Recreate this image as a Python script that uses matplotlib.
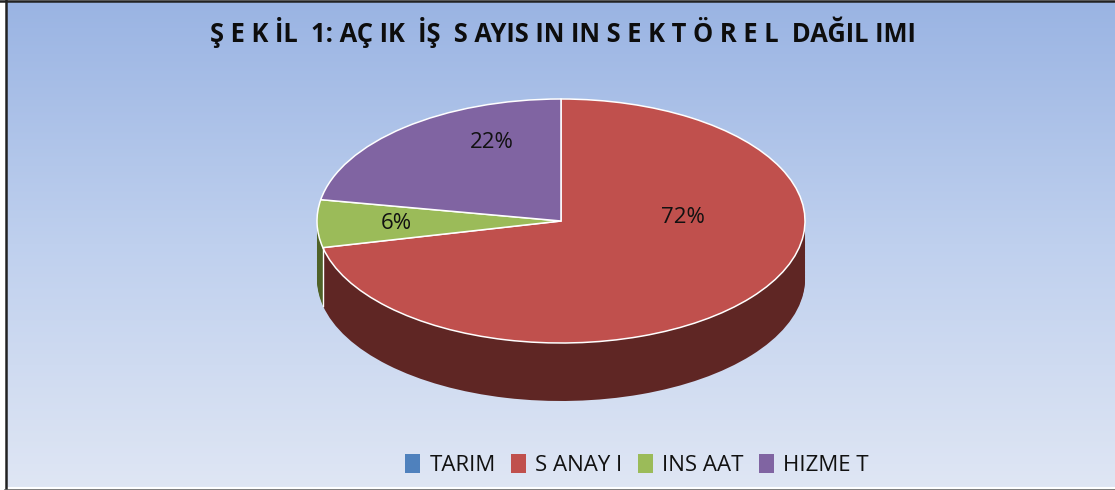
import matplotlib
matplotlib.use('Agg')
import matplotlib.pyplot as plt
import numpy as np
from matplotlib.patches import Patch

plt.rcParams['font.family'] = ['Open Sans', 'DejaVu Sans']

# data
sectors = ['TARIM', 'S ANAY I', 'INS AAT', 'HIZME T']
shares = [0, 71.5, 6.3, 22.2]
top_colors = ['#4f81bd', '#c0504d', '#9bbb59', '#8064a2']
side_colors = ['#2c4d75', '#5f2624', '#4f6228', '#4d3b62']
title = 'Ş E K İL  1: AÇ IK  İŞ  S AYIS IN IN S E K T Ö R E L  DAĞIL IMI'

W, H = 1115, 490
fig = plt.figure(figsize=(W / 100, H / 100), dpi=100, facecolor='white')

# background in pixel coordinates
bg = fig.add_axes([0, 0, 1, 1])
bg.axis('off')
grad = np.linspace(0, 1, 256).reshape(-1, 1)
cmap = matplotlib.colors.LinearSegmentedColormap.from_list(
    'bgfill', ['#9ab4e3', '#bfd0ee', '#dfe6f4'])
bg.imshow(grad, cmap=cmap, extent=[6, W, 487, 2], aspect='auto')
bg.set_xlim(0, W)
bg.set_ylim(H, 0)
bg.plot([5.5, 5.5], [0, 489], color='#222222', lw=1.8)
bg.plot([0, W], [1, 1], color='#222222', lw=1.8)
bg.plot([5, W], [489.5, 489.5], color='#666666', lw=1.2)

# pie axes: x 317-805, y 99-343, unit circle stretched into an ellipse
x0, x1, y0, y1 = 317, 805, 99, 343
ax = fig.add_axes([x0 / W, 1 - y1 / H, (x1 - x0) / W, (y1 - y0) / H], zorder=1)
depth = 58 / ((y1 - y0) / 2)

for off in np.linspace(depth, 0.01, 40):
    ax.pie(shares, colors=side_colors, startangle=90, counterclock=False,
           center=(0, -off), wedgeprops={'linewidth': 0, 'clip_on': False})
wedges, _ = ax.pie(shares, colors=top_colors, startangle=90, counterclock=False,
                   center=(0, 0), wedgeprops={'linewidth': 1.1, 'edgecolor': 'white', 'clip_on': False})

# white seam on the side where the red and green walls meet
ang = np.deg2rad(90 - 3.6 * (shares[0] + shares[1]))
ax.plot([np.cos(ang)] * 2, [np.sin(ang), np.sin(ang) - depth], color='white', lw=1, clip_on=False)

ax.set_aspect('auto')
ax.set_xlim(-1, 1)
ax.set_ylim(-1, 1)
ax.axis('off')

# text sits on its own overlay so the pie does not cover it
over = fig.add_axes([0, 0, 1, 1], zorder=5)
over.set_xlim(0, W)
over.set_ylim(H, 0)
over.axis('off')

label_pos = [None, (683, 217), (396, 223), (492, 142)]
for v, p in zip(shares, label_pos):
    if p is not None:
        over.text(p[0], p[1], f'{round(v)}%', ha='center', va='center', fontsize=16, color='#111111')

over.text(563, 32, title, ha='center', va='center', fontsize=18.4, fontweight='bold', color='#0d0d0d')

handles = [Patch(facecolor=c, edgecolor='none') for c in top_colors]
over.legend(handles, sectors, ncols=4, loc='center', bbox_to_anchor=(637 / W, 1 - 465 / H),
            frameon=False, fontsize=16, handlelength=0.68, handleheight=0.9,
            handletextpad=0.4, columnspacing=0.7, labelcolor='#111111',
            bbox_transform=fig.transFigure)

fig.savefig('out.png', dpi=100)
